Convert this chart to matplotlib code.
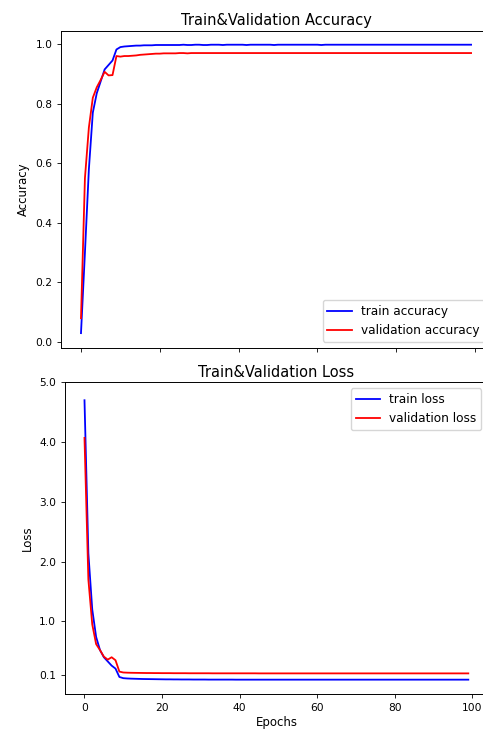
import matplotlib
matplotlib.use("Agg")
import matplotlib.pyplot as plt
from matplotlib.ticker import FormatStrFormatter

epochs = list(range(100))

train_acc = [0.030, 0.300, 0.580, 0.770, 0.835, 0.875, 0.915, 0.930, 0.945, 0.982,
             0.990, 0.992, 0.993, 0.994, 0.995, 0.995, 0.996, 0.996, 0.996, 0.997,
             0.997, 0.997, 0.997, 0.997, 0.997, 0.997, 0.998, 0.997, 0.997, 0.998,
             0.998, 0.997, 0.997, 0.998, 0.998, 0.998, 0.997, 0.998, 0.998, 0.998,
             0.998, 0.998, 0.997, 0.998, 0.998, 0.998, 0.998, 0.998, 0.998, 0.997,
             0.998, 0.998, 0.998, 0.998, 0.998, 0.998, 0.998, 0.998, 0.998, 0.998,
             0.998, 0.997, 0.998, 0.998, 0.998, 0.998, 0.998, 0.998, 0.998, 0.998,
             0.998, 0.998, 0.998, 0.998, 0.998, 0.998, 0.998, 0.998, 0.998, 0.998,
             0.998, 0.998, 0.998, 0.998, 0.998, 0.998, 0.998, 0.998, 0.998, 0.998,
             0.998, 0.998, 0.998, 0.998, 0.998, 0.998, 0.998, 0.998, 0.998, 0.998]

val_acc = [0.080, 0.550, 0.720, 0.820, 0.855, 0.880, 0.907, 0.895, 0.896, 0.960,
           0.958, 0.960, 0.960, 0.961, 0.962, 0.964, 0.965, 0.966, 0.967, 0.968,
           0.968, 0.969, 0.969, 0.969, 0.969, 0.970, 0.970, 0.969, 0.970, 0.970,
           0.970, 0.970, 0.970, 0.970, 0.970, 0.970, 0.970, 0.970, 0.970, 0.970,
           0.970, 0.970, 0.970, 0.970, 0.970, 0.970, 0.970, 0.970, 0.970, 0.970,
           0.970, 0.970, 0.970, 0.970, 0.970, 0.970, 0.970, 0.970, 0.970, 0.970,
           0.970, 0.970, 0.970, 0.970, 0.970, 0.970, 0.970, 0.970, 0.970, 0.970,
           0.970, 0.970, 0.970, 0.970, 0.970, 0.970, 0.970, 0.970, 0.970, 0.970,
           0.970, 0.970, 0.970, 0.970, 0.970, 0.970, 0.970, 0.970, 0.970, 0.970,
           0.970, 0.970, 0.970, 0.970, 0.970, 0.970, 0.970, 0.970, 0.970, 0.970]

train_loss = [4.70, 2.14, 1.20, 0.74, 0.52, 0.40, 0.33, 0.26, 0.21, 0.07,
              0.050, 0.045, 0.042, 0.040, 0.038, 0.036, 0.035, 0.034, 0.033, 0.032,
              0.031, 0.030, 0.030, 0.029, 0.029, 0.028, 0.028, 0.028, 0.027, 0.027,
              0.027, 0.027, 0.026, 0.026, 0.026, 0.026, 0.026, 0.026, 0.026, 0.025,
              0.025, 0.025, 0.025, 0.025, 0.025, 0.025, 0.025, 0.025, 0.025, 0.025,
              0.025, 0.025, 0.025, 0.025, 0.025, 0.025, 0.025, 0.025, 0.025, 0.025,
              0.025, 0.025, 0.025, 0.025, 0.025, 0.025, 0.025, 0.025, 0.025, 0.025,
              0.025, 0.025, 0.025, 0.025, 0.025, 0.025, 0.025, 0.025, 0.025, 0.025,
              0.025, 0.025, 0.025, 0.025, 0.025, 0.025, 0.025, 0.025, 0.025, 0.025,
              0.025, 0.025, 0.025, 0.025, 0.025, 0.025, 0.025, 0.025, 0.025, 0.025]

val_loss = [4.07, 1.70, 0.95, 0.62, 0.52, 0.41, 0.36, 0.40, 0.35, 0.16,
            0.145, 0.142, 0.140, 0.139, 0.138, 0.137, 0.136, 0.136, 0.135, 0.135,
            0.134, 0.134, 0.134, 0.133, 0.133, 0.133, 0.133, 0.132, 0.132, 0.132,
            0.132, 0.132, 0.132, 0.131, 0.131, 0.131, 0.131, 0.131, 0.131, 0.131,
            0.131, 0.131, 0.131, 0.131, 0.131, 0.130, 0.130, 0.130, 0.130, 0.130,
            0.130, 0.130, 0.130, 0.130, 0.130, 0.130, 0.130, 0.130, 0.130, 0.130,
            0.130, 0.130, 0.130, 0.130, 0.130, 0.130, 0.130, 0.130, 0.130, 0.130,
            0.130, 0.130, 0.130, 0.130, 0.130, 0.130, 0.130, 0.130, 0.130, 0.130,
            0.130, 0.130, 0.130, 0.130, 0.130, 0.130, 0.130, 0.130, 0.130, 0.130,
            0.130, 0.130, 0.130, 0.130, 0.130, 0.130, 0.130, 0.130, 0.130, 0.130]

acc_ticks = [0.0, 0.2, 0.4, 0.6, 0.8, 1.0]
loss_ticks = [0.1, 1.0, 2.0, 3.0, 4.0, 5.0]
x_ticks = [0, 20, 40, 60, 80, 100]

FS = 7.7
LFS = 8.5
TFS = 10.5
plt.rcParams['font.family'] = ['DejaVu Sans']
plt.rcParams['axes.linewidth'] = 0.7

fig = plt.figure(figsize=(4.83, 7.31), dpi=100)
ax1 = fig.add_axes([0.1273, 0.5243, 0.8884, 0.4337])
ax2 = fig.add_axes([0.1352, 0.0502, 0.8741, 0.4268])

lw = 1.3
ax1.plot(epochs, train_acc, color='blue', lw=lw, label='train accuracy')
ax1.plot(epochs, val_acc, color='red', lw=lw, label='validation accuracy')
ax1.set_title('Train&Validation Accuracy', fontsize=TFS, pad=4)
ax1.set_ylabel('Accuracy', fontsize=LFS)
ax1.set_yticks(acc_ticks)
ax1.set_ylim(-0.019, 1.045)
ax1.set_xlim(-4.95, 103.95)
ax1.set_xticks(x_ticks)
ax1.tick_params(labelsize=FS, labelbottom=False, length=3, width=0.6)
ax1.yaxis.set_major_formatter(FormatStrFormatter('%.1f'))
ax1.legend(loc='lower right', fontsize=8.7, borderaxespad=0.5)

ax2.plot(epochs, train_loss, color='blue', lw=lw, label='train loss')
ax2.plot(epochs, val_loss, color='red', lw=lw, label='validation loss')
ax2.set_title('Train&Validation Loss', fontsize=TFS, pad=4)
ax2.set_ylabel('Loss', fontsize=LFS)
ax2.set_xlabel('Epochs', fontsize=LFS, labelpad=2)
ax2.set_yticks(loss_ticks)
ax2.set_ylim(-0.22, 5.0)
ax2.set_xlim(-4.95, 103.95)
ax2.set_xticks(x_ticks)
ax2.tick_params(labelsize=FS, length=3, width=0.6)
ax2.yaxis.set_major_formatter(FormatStrFormatter('%.1f'))
ax2.legend(loc='upper right', fontsize=8.7, borderaxespad=0.5)

fig.savefig('out.png', dpi=100)
